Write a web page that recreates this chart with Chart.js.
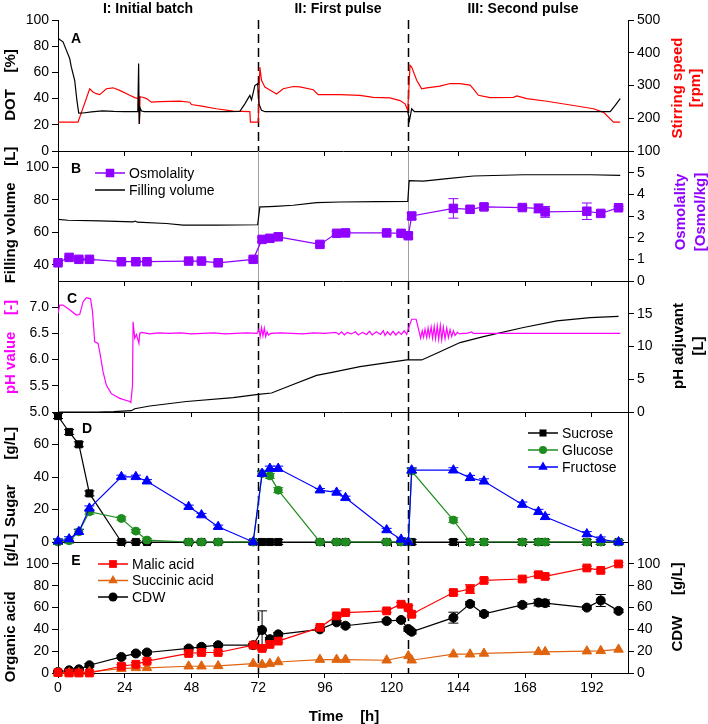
<!DOCTYPE html>
<html>
<head>
    <title>Fed-batch cultivation</title>
    <script src="https://cdn.jsdelivr.net/npm/chart.js"></script>
    <style>
        body { margin: 0; background: #fff; }
        #wrap { position: relative; width: 708px; height: 724px; font-family: "Liberation Sans", Arial, sans-serif; }
        #wrap canvas { position: absolute; left: 0; top: 0; }
        .lbl { position: absolute; transform: translate(-50%, -50%); font-weight: bold; font-size: 15px; white-space: pre; color: #000; }
        .rot { transform: translate(-50%, -50%) rotate(-90deg); text-align: center; line-height: 18px; }
        .small { font-size: 14px; }
    </style>
</head>
<body>
<div id="wrap">
    <canvas id="cA" width="708" height="724"></canvas>
    <canvas id="cB" width="708" height="724"></canvas>
    <canvas id="cC" width="708" height="724"></canvas>
    <canvas id="cD" width="708" height="724"></canvas>
    <canvas id="cE" width="708" height="724"></canvas>

    <div class="lbl small" style="left:148px;top:8px">I: Initial batch</div>
    <div class="lbl small" style="left:338px;top:8px">II: First pulse</div>
    <div class="lbl small" style="left:523px;top:8px">III: Second pulse</div>

    <div class="lbl small" style="left:76px;top:38px">A</div>
    <div class="lbl small" style="left:76px;top:168px">B</div>
    <div class="lbl small" style="left:72px;top:298px">C</div>
    <div class="lbl small" style="left:87px;top:428px">D</div>
    <div class="lbl small" style="left:76px;top:560px">E</div>

    <div class="lbl rot" style="left:10px;top:85px">DOT    [%]</div>
    <div class="lbl rot" style="left:686px;top:88px;color:#ff0000">Stirring speed<br>[rpm]</div>
    <div class="lbl rot" style="left:10px;top:215px">Filling volume    [L]</div>
    <div class="lbl rot" style="left:690px;top:212px;color:#8f00ff;line-height:20px">Osmolality<br>[Osmol/kg]</div>
    <div class="lbl rot" style="left:10px;top:347px;color:#ff00ff">pH value    [-]</div>
    <div class="lbl rot" style="left:688px;top:346px;line-height:20px">pH adjuvant<br>[L]</div>
    <div class="lbl rot" style="left:10px;top:477px">Sugar      [g/L]</div>
    <div class="lbl rot" style="left:10px;top:608px">Organic acid      [g/L]</div>
    <div class="lbl rot" style="left:677px;top:607px">CDW     [g/L]</div>
    <div class="lbl" style="left:344px;top:715px">Time    [h]</div>
</div>

<script>
    // ---- data ----
    const timeTicks = [0, 24, 48, 72, 96, 120, 144, 168, 192];
    const pulseTimes = [72, 126];

    // A: online DOT [%] and stirring speed [rpm]
    const dotCurve = [[0, 86], [0.3, 85.5], [1.8, 83.3], [3, 77], [4.2, 70.6], [4.8, 64], [6, 54], [6.8, 38.6], [7.45, 28.9],
        [9, 29], [12, 29.8], [16, 30.6], [20, 30.2], [24, 30], [28.7, 30], [29, 66.8], [29.2, 20.7], [29.5, 33], [30, 30.5],
        [31, 30], [40, 30], [50, 30], [60, 30], [65.4, 30.2], [67.2, 36], [68.3, 40], [69, 42.4], [69.6, 39], [70.8, 50],
        [71.8, 51.4], [72.3, 36], [73.2, 31], [74.5, 30], [90, 30], [110, 30], [125.8, 30], [126.4, 23.3], [127.2, 32.2],
        [128.2, 30], [150, 30], [180, 30], [198.6, 30], [200.4, 34.8], [202.2, 40]];
    const stirCurve = [[0, 188], [7.2, 188], [11.4, 290], [12.6, 280], [13.8, 275], [15, 272], [17.4, 290], [19.8, 293],
        [22.2, 285], [25.8, 270], [27.6, 263], [28.9, 260], [29.1, 268], [29.3, 183], [29.5, 266], [30.5, 264], [31.8, 260],
        [33.6, 249], [36.6, 251], [43.8, 252], [47.4, 249], [48, 242], [52.2, 236], [57, 229], [63, 222], [69, 220],
        [69.2, 188], [72, 188], [72.6, 356], [73.2, 316], [74.4, 295], [77.4, 280], [78.6, 274], [81, 290], [84.6, 297],
        [87, 296], [91.8, 287], [93.6, 272], [101.4, 272], [108.6, 270], [113.4, 264], [119.4, 262], [123, 254],
        [124.8, 244], [125.8, 224], [126.6, 362], [127.2, 356], [129, 316], [130.8, 290], [132.6, 293], [137.4, 298],
        [141, 306], [144.6, 306], [148.2, 301], [149.4, 290], [151.2, 270], [155.4, 263], [163.8, 264], [165, 268],
        [168.6, 260], [175.8, 252], [185.4, 239], [192.6, 229], [196.2, 218], [199.8, 188], [202.2, 188]];

    // B: filling volume [L] and osmolality [Osmol/kg]
    const volumeCurve = [[0, 67.9], [3.6, 67.4], [15, 67], [27, 66.4], [27.8, 66.9], [28.5, 66.2], [39, 65.4], [45, 64.4],
        [57, 64.4], [71.8, 64.6], [72.6, 75.6], [73.8, 75.6], [78, 75.9], [84.6, 76.6], [93, 78.2], [101.4, 78.6],
        [115, 78.8], [125.8, 79], [126.3, 91.8], [131.4, 91.5], [140, 93], [149.4, 94.6], [167.4, 95.4], [191.4, 95.4],
        [202.2, 95]];

    // offline samples
    const sampleTime = [0, 4, 7.5, 11.3, 22.8, 28, 32, 47, 51.6, 57.6, 70.2, 73.4, 76.2, 79.2, 94.2, 100.2, 103.4,
        118.2, 123.4, 126, 127.2, 142.2, 148.2, 153.2, 167, 172.8, 175.2, 190.2, 195.2, 201.6];
    const osmolality = [0.84, 1.09, 1.0, 1.0, 0.89, 0.89, 0.89, 0.92, 0.92, 0.84, 1.0, 1.92, 1.97, 2.04, 1.69, 2.2, 2.22,
        2.22, 2.2, 2.09, 3.0, 3.35, 3.31, 3.42, 3.39, 3.35, 3.19, 3.22, 3.12, 3.38];
    const osmolalityErr = [0.05, 0.05, 0.05, 0.05, 0.05, 0.05, 0.05, 0.05, 0.05, 0.05, 0.08, 0.1, 0.06, 0.06, 0.08, 0.08,
        0.06, 0.1, 0.1, 0.12, 0.15, 0.45, 0.12, 0.12, 0.08, 0.2, 0.25, 0.38, 0.12, 0.06];

    // C: pH value and pH adjuvant [L]
    const phCurve = [[0, 6.88], [0.6, 7.04], [1.8, 7.04], [4.2, 6.95], [6.6, 6.85], [7.8, 6.86], [9, 7.1], [10.2, 7.18],
        [11.7, 7.16], [12.4, 6.92], [13.2, 6.34], [14.4, 6.31], [15, 6.15], [16.2, 5.77], [17.4, 5.51], [19.2, 5.35],
        [22.2, 5.26], [25.8, 5.2], [26.2, 5.18], [26.8, 5.51], [27, 6.72], [27.6, 6.41], [28.2, 6.48], [29.1, 6.31],
        [29.4, 6.5], [30, 6.52], [33, 6.49], [36, 6.51], [40, 6.5], [44, 6.51], [48, 6.49], [52, 6.5], [56, 6.51],
        [60, 6.49], [64, 6.5], [68, 6.51], [71.6, 6.5], [72.2, 6.57], [72.7, 6.44], [73.2, 6.61], [73.7, 6.45],
        [74.2, 6.6], [74.7, 6.44], [75.2, 6.53], [75.7, 6.47], [76.5, 6.5], [80, 6.51], [84, 6.5], [88, 6.49], [92, 6.51],
        [96, 6.5], [100, 6.52], [101, 6.48], [102, 6.53], [103, 6.47], [104, 6.52], [105.5, 6.49], [107, 6.53],
        [108, 6.47], [109.5, 6.52], [111, 6.48], [112, 6.54], [113, 6.47], [114.5, 6.53], [116, 6.48], [117, 6.55],
        [117.6, 6.46], [118.5, 6.53], [119.5, 6.47], [120.5, 6.54], [121.5, 6.47], [122.5, 6.53], [123.5, 6.48],
        [124.5, 6.55], [125.4, 6.48], [126.2, 6.62], [127.2, 6.77], [128.8, 6.77], [129.6, 6.6], [130.4, 6.41],
        [131, 6.55], [131.5, 6.43], [132, 6.58], [132.6, 6.42], [133.1, 6.6], [133.6, 6.44], [134.2, 6.62],
        [134.7, 6.41], [135.3, 6.63], [135.8, 6.4], [136.4, 6.64], [136.9, 6.39], [137.5, 6.65], [138, 6.38],
        [138.6, 6.62], [139.2, 6.4], [139.8, 6.6], [140.4, 6.42], [141, 6.57], [141.6, 6.44], [142.2, 6.55],
        [142.8, 6.46], [143.6, 6.52], [144.5, 6.49], [145.5, 6.5], [147, 6.5], [148.8, 6.53], [149.3, 6.5],
        [160, 6.5], [180, 6.5], [202.2, 6.5]];
    const adjuvantCurve = [[0, 0], [14, 0], [20, 0.05], [26.4, 0.2], [27.6, 0.5], [33, 0.92], [46.2, 1.6], [63, 2.2],
        [72, 2.7], [76.8, 2.9], [83.4, 4.0], [93, 5.6], [99, 6.1], [108.6, 6.93], [125.4, 7.95], [130.8, 7.95],
        [136.2, 8.97], [144.6, 10.6], [153, 11.5], [167.4, 12.9], [179.4, 13.9], [191.4, 14.4], [201.6, 14.6]];

    // D: sugars [g/L]
    const sucrose = [77.5, 67.7, 60.1, 29.9, 0, 0, 0, 0, 0, 0, 0, 0, 0, 0, 0, 0, 0, 0, 0, 0, 0, 0, 0, 0, 0, 0, 0, 0, 0, 0];
    const glucose = [0, 0.8, 6.3, 18.6, 14.5, 6.7, 1.2, 0, 0, 0, 0, 42.1, 40.7, 31.9, 0, 0, 0, 0, 0, 0, 43.7, 13.5, 0, 0,
        0, 0, 0, 0, 0, 0];
    const fructose = [0.5, 1.8, 6.3, 20.7, 40.1, 40.1, 37.4, 21.7, 16.6, 9.4, 0, 42.1, 45.2, 45.2, 31.9, 30.5, 27.2, 7.4,
        1.6, 0, 44.2, 44.2, 39.5, 37.4, 23.1, 18.6, 15.5, 4.9, 1.6, 0];
    const sugarErr = [1.5, 1.5, 1.5, 1.5, 1, 1, 1, 1, 1, 1, 1, 1.5, 1.5, 1.5, 1, 1, 1, 1, 1, 1, 1.5, 1.5, 1.5, 1.5, 1.5,
        1.5, 1.5, 1.5, 1.5, 1];

    // E: organic acids and CDW [g/L]
    const malicAcid = [0.4, 0, 0, 0, 6.2, 8, 10.8, 17.9, 18.8, 18.8, 25.5, 22.5, 26.2, 29.2, 41.8, 52.3, 55.3, 56.9, 63,
        59.9, 53.8, 73.7, 76.9, 84.8, 86.1, 90, 88.5, 96.2, 94, 99.9];
    const malicErr = [1, 1, 1, 1, 1.5, 1.5, 1.5, 1.5, 1.5, 1.5, 1.5, 1.5, 1.5, 1.5, 1.5, 1.5, 1.5, 1.5, 1.5, 2, 1.5, 2,
        4, 2, 2, 2, 2, 1.5, 1.5, 1.5];
    const succinicAcid = [0, 0, 0, 1, 4, 4.7, 4.7, 6.2, 6.2, 6.5, 8.6, 7.7, 8.6, 10.1, 12.3, 12.3, 12.3, 11.7, null, 15.7,
        11.7, 17.2, 17.2, 17.9, null, 19.4, 19.4, 20, 20.3, 21.6];
    const cdw = [1, 2.5, 3.4, 7.1, 14.7, 17.9, 18.8, 22.5, 24, 25.5, 25.5, 39.4, 31, 35.4, 40, 46.4, 43.3, 47.6, 48.6,
        40.3, 37.8, 50.7, 63.3, 54.1, 62.4, 64.5, 64, 59.9, 66.4, 56.9];
    const cdwErr = [1, 1, 1, 1.5, 1.5, 1.5, 1.5, 1.5, 1.5, 1.5, 1.5, 17.5, 1.5, 1.5, 1.5, 1.5, 1.5, 1.5, 1.5, 2, 2, 5, 2,
        2, 2, 3, 3, 1.5, 5.5, 1.5];

    // axis ticks
    const dotTicks = [0, 20, 40, 60, 80, 100];
    const stirTicks = [100, 200, 300, 400, 500];
    const volumeTicks = [40, 60, 80, 100];
    const osmTicks = [0, 1, 2, 3, 4, 5];
    const phTicks = [5.0, 5.5, 6.0, 6.5, 7.0];
    const adjuvantTicks = [0, 5, 10, 15];
    const sugarTicks = [0, 20, 40, 60];
    const acidTicks = [0, 20, 40, 60, 80, 100];

    // ---- helpers ----
    const H = 724;
    const FONT = '"Liberation Sans", Arial, sans-serif';
    const tickFont = { family: FONT, size: 14 };
    const curve = arr => arr.map(p => ({ x: p[0], y: p[1] }));
    const samples = vals => sampleTime.map((t, i) => ({ x: t, y: vals[i] }));

    function xScale(last) {
        return {
            type: 'linear', min: 0, max: 205,
            afterBuildTicks: s => { s.ticks = timeTicks.map(v => ({ value: v })); },
            afterFit: s => { s.height = last ? 26 : 6; },
            ticks: { display: last, autoSkip: false, maxRotation: 0, color: '#000', font: tickFont, padding: 2 },
            grid: { drawOnChartArea: false, drawTicks: true, tickLength: 5, color: '#000' },
            border: { color: '#000', width: 1 }
        };
    }

    function yScale(position, min, max, ticks, decimals, showTicks = true) {
        return {
            type: 'linear', position: position, min: min, max: max,
            afterBuildTicks: s => { s.ticks = ticks.map(v => ({ value: v })); },
            afterFit: s => { s.width = position === 'left' ? 58 : 80; },
            ticks: { display: showTicks, autoSkip: false, color: '#000', font: tickFont, padding: 3,
                callback: v => Number(v).toFixed(decimals) },
            grid: { drawOnChartArea: false, drawTicks: showTicks, tickLength: 6, color: '#000' },
            border: { color: '#000', width: 1 }
        };
    }

    function lineSet(label, data, color, axis) {
        return { label, data, yAxisID: axis, borderColor: color, borderWidth: 1.2, pointRadius: 0, tension: 0 };
    }

    function markerSet(label, data, color, axis, style, radius, errors, order) {
        return {
            label, data, yAxisID: axis, borderColor: color, backgroundColor: color, borderWidth: 1.2,
            pointStyle: style, pointRadius: radius, pointBackgroundColor: color, pointBorderColor: color,
            pointBorderWidth: 1, tension: 0, spanGaps: true, clip: false, errors: errors, order: order || 0,
            inLegend: true
        };
    }

    // error bars drawn under the markers
    const errorBars = {
        id: 'errorBars',
        beforeDatasetsDraw(chart) {
            const ctx = chart.ctx;
            chart.data.datasets.forEach((ds, i) => {
                if (!ds.errors) return;
                const meta = chart.getDatasetMeta(i);
                const ys = chart.scales[meta.yAxisID];
                ctx.save();
                ctx.strokeStyle = ds.borderColor;
                ctx.lineWidth = 1;
                meta.data.forEach((pt, j) => {
                    const v = ds.data[j].y, e = ds.errors[j];
                    if (v === null || v === undefined || !e) return;
                    const top = ys.getPixelForValue(v + e), bot = ys.getPixelForValue(v - e);
                    ctx.beginPath();
                    ctx.moveTo(pt.x, top); ctx.lineTo(pt.x, bot);
                    ctx.moveTo(pt.x - 5, top); ctx.lineTo(pt.x + 5, top);
                    ctx.moveTo(pt.x - 5, bot); ctx.lineTo(pt.x + 5, bot);
                    ctx.stroke();
                });
                ctx.restore();
            });
        }
    };

    // vertical markers at the two pulses
    function pulseLines(dashed) {
        return {
            id: 'pulseLines',
            beforeDatasetsDraw(chart) {
                const { ctx, chartArea } = chart;
                const xs = chart.scales.x;
                ctx.save();
                ctx.strokeStyle = dashed ? '#000' : '#a0a0a0';
                ctx.lineWidth = dashed ? 1.5 : 1;
                ctx.setLineDash(dashed ? [9, 5] : []);
                pulseTimes.forEach(t => {
                    const px = Math.round(xs.getPixelForValue(t)) + 0.5;
                    ctx.beginPath();
                    ctx.moveTo(px, chartArea.top);
                    ctx.lineTo(px, chartArea.bottom);
                    ctx.stroke();
                });
                ctx.restore();
            }
        };
    }

    function drawMarker(ctx, style, r, x, y) {
        ctx.beginPath();
        if (style === 'rect') {
            const s = r * Math.SQRT1_2;
            ctx.rect(x - s, y - s, 2 * s, 2 * s);
        } else if (style === 'triangle') {
            ctx.moveTo(x, y - r);
            ctx.lineTo(x + r * 0.866, y + r * 0.5);
            ctx.lineTo(x - r * 0.866, y + r * 0.5);
            ctx.closePath();
        } else {
            ctx.arc(x, y, r, 0, Math.PI * 2);
        }
        ctx.fill();
    }

    // small legend placed inside the panel
    function panelLegend(x, y, rowGap) {
        return {
            id: 'panelLegend',
            afterDraw(chart) {
                const ctx = chart.ctx;
                const items = chart.data.datasets.filter(d => d.inLegend);
                ctx.save();
                ctx.font = '14px ' + FONT;
                ctx.textBaseline = 'middle';
                items.forEach((d, i) => {
                    const yy = y + i * rowGap;
                    ctx.strokeStyle = d.borderColor;
                    ctx.lineWidth = 1.5;
                    ctx.beginPath();
                    ctx.moveTo(x, yy); ctx.lineTo(x + 30, yy);
                    ctx.stroke();
                    if (d.pointRadius) {
                        ctx.fillStyle = d.borderColor;
                        drawMarker(ctx, d.pointStyle, d.pointRadius, x + 15, yy);
                    }
                    ctx.fillStyle = '#000';
                    ctx.fillText(d.label, x + 34, yy + 1);
                });
                ctx.restore();
            }
        };
    }

    function makePanel(id, top, bottom, last, scales, datasets, plugins) {
        const xh = last ? 26 : 6;
        return new Chart(document.getElementById(id), {
            type: 'line',
            data: { datasets: datasets },
            options: {
                responsive: false,
                maintainAspectRatio: false,
                animation: false,
                layout: { padding: { top: top, bottom: H - bottom - xh, left: 0, right: 0 } },
                scales: Object.assign({ x: xScale(last) }, scales),
                plugins: { legend: { display: false }, tooltip: { enabled: false } }
            },
            plugins: [errorBars].concat(plugins)
        });
    }

    // ---- panels ----
    makePanel('cA', 20, 151, false,
        { y: yScale('left', 0, 100, dotTicks, 0), y2: yScale('right', 100, 500, stirTicks, 0) },
        [lineSet('DOT', curve(dotCurve), '#000000', 'y'),
         lineSet('Stirring speed', curve(stirCurve), '#ff0000', 'y2')],
        [pulseLines(true)]);

    const volumeSet = lineSet('Filling volume', curve(volumeCurve), '#000000', 'y');
    volumeSet.inLegend = true;
    makePanel('cB', 151, 281, false,
        { y: yScale('left', 30, 110, volumeTicks, 0), y2: yScale('right', 0, 6, osmTicks, 0) },
        [markerSet('Osmolality', samples(osmolality), '#8f00ff', 'y2', 'rect', 6, osmolalityErr),
         volumeSet],
        [pulseLines(false), panelLegend(95, 173, 17)]);

    makePanel('cC', 281, 412, false,
        { y: yScale('left', 5, 7.5, phTicks, 1), y2: yScale('right', 0, 20, adjuvantTicks, 0) },
        [lineSet('pH value', curve(phCurve), '#ff00ff', 'y'),
         lineSet('pH adjuvant', curve(adjuvantCurve), '#000000', 'y2')],
        [pulseLines(true)]);

    makePanel('cD', 412, 542, false,
        { y: yScale('left', 0, 80, sugarTicks, 0), y2: yScale('right', 0, 1, [0], 0, false) },
        [markerSet('Sucrose', samples(sucrose), '#000000', 'y', 'rect', 5, sugarErr, 2),
         markerSet('Glucose', samples(glucose), '#1f8c1f', 'y', 'circle', 4, sugarErr, 1),
         markerSet('Fructose', samples(fructose), '#0000ff', 'y', 'triangle', 5.5, sugarErr, 0)],
        [pulseLines(true), panelLegend(528, 433, 17)]);

    makePanel('cE', 542, 673, true,
        { y: yScale('left', 0, 120, acidTicks, 0), y2: yScale('right', 0, 120, acidTicks, 0) },
        [markerSet('Malic acid', samples(malicAcid), '#ff0000', 'y', 'rect', 5.5, malicErr),
         markerSet('Succinic acid', samples(succinicAcid), '#e0640f', 'y', 'triangle', 5.5, null),
         markerSet('CDW', samples(cdw), '#000000', 'y2', 'circle', 4.5, cdwErr)],
        [pulseLines(true), panelLegend(98, 564, 16.5)]);
</script>
</body>
</html>
